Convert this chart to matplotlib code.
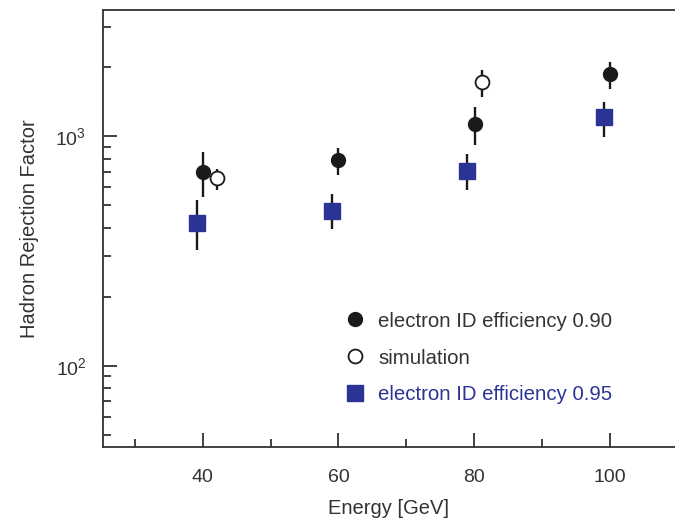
import numpy as np
import matplotlib
matplotlib.use("Agg")
import matplotlib.pyplot as plt

plt.rcParams["font.family"] = ["Liberation Sans", "DejaVu Sans"]
plt.rcParams["mathtext.default"] = "regular"

GREY = "#333333"
BLUE = "#2b3494"

# electron ID efficiency 0.90 (filled circles)
e90_x = [40.0, 60.0, 80.1, 100.0]
e90_y = [697, 788, 1131, 1868]
e90_lo = [545, 678, 916, 1608]
e90_hi = [857, 886, 1338, 2115]

# simulation (open circles)
sim_x = [42.1, 81.1]
sim_y = [656, 1719]
sim_lo = [583, 1488]
sim_hi = [718, 1946]

# electron ID efficiency 0.95 (blue squares)
e95_x = [39.2, 59.0, 79.0, 99.1]
e95_y = [420, 474, 708, 1210]
e95_lo = [319, 393, 587, 990]
e95_hi = [528, 560, 837, 1415]


def yerr(y, lo, hi):
    y = np.asarray(y, float)
    return [y - np.asarray(lo), np.asarray(hi) - y]


fig = plt.figure(figsize=(6.75, 5.18), dpi=100)
ax = fig.add_axes([103 / 675, 1 - 447 / 518, 1 - 103 / 675, (447 - 10) / 518])

ax.errorbar(e90_x, e90_y, yerr=yerr(e90_y, e90_lo, e90_hi), fmt="o", color="#1a1a1a",
            ecolor="#1a1a1a", elinewidth=1.7, capsize=0, ms=10,
            label="electron ID efficiency 0.90", zorder=3)
ax.errorbar(sim_x, sim_y, yerr=yerr(sim_y, sim_lo, sim_hi), fmt="o", mfc="white",
            mec="#1a1a1a", mew=1.3, ecolor="#1a1a1a", elinewidth=1.7, capsize=0,
            ms=10, label="simulation", zorder=2)
ax.errorbar(e95_x, e95_y, yerr=yerr(e95_y, e95_lo, e95_hi), fmt="s", color=BLUE,
            ecolor="#1a1a1a", elinewidth=1.7, capsize=0, ms=11,
            label="electron ID efficiency 0.95", zorder=3)

ax.set_yscale("log")
ax.set_xlim(25.3, 109.6)
ax.set_ylim(44.3, 3556)
ax.set_xticks([40, 60, 80, 100])
ax.set_xticks([30, 50, 70, 90], minor=True)
ax.set_yticks([100, 1000])
ax.set_yticklabels(["$10^2$", "$10^3$"])

ax.spines["right"].set_visible(False)
for s in ax.spines.values():
    s.set_color(GREY)
    s.set_linewidth(1.3)
ax.tick_params(which="both", direction="in", colors=GREY, labelcolor=GREY,
               labelsize=14, width=1.3, right=False, top=False)
ax.tick_params(which="major", length=10, pad=16)
ax.tick_params(which="minor", length=6)
ax.tick_params(axis="y", which="major", pad=12)

ax.set_xlabel("Energy [GeV]", fontsize=14.5, color=GREY, labelpad=9)
ax.set_ylabel("Hadron Rejection Factor", fontsize=14.5, color=GREY, labelpad=12)

handles, labels = ax.get_legend_handles_labels()
handles = [h[0] for h in handles]
leg = ax.legend(handles, labels, loc="upper left", frameon=False, fontsize=14.7,
                bbox_to_anchor=(0.395, 0.352), handlelength=0.8, handletextpad=0.7,
                labelspacing=0.88)
for t, c in zip(leg.get_texts(), [GREY, GREY, BLUE]):
    t.set_color(c)

fig.savefig("out.png", dpi=100)
